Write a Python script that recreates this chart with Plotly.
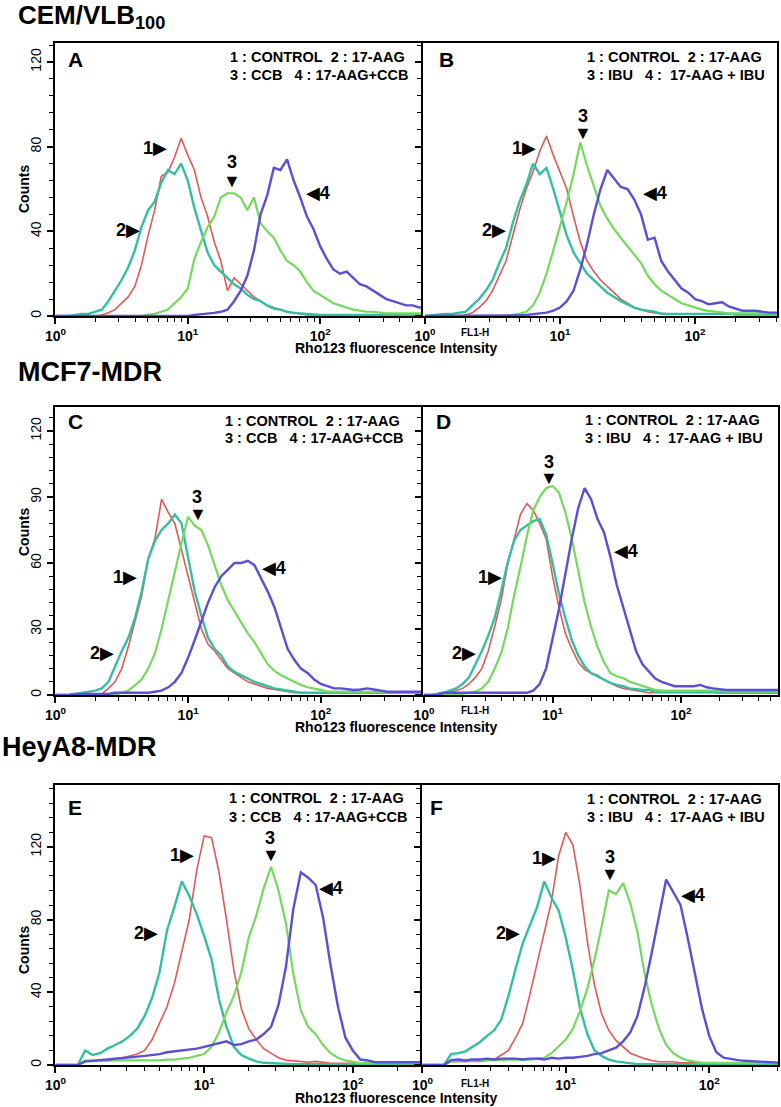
import plotly.graph_objects as go

# FL1-H bin centres (Rho123 fluorescence intensity, 0.05-decade bins)
intensity = [1.000, 1.122, 1.259, 1.413, 1.585, 1.778, 1.995, 2.239, 2.512, 2.818,
             3.162, 3.548, 3.981, 4.467, 5.012, 5.623, 6.310, 7.079, 7.943, 8.913,
             10.00, 11.22, 12.59, 14.13, 15.85, 17.78, 19.95, 22.39, 25.12, 28.18,
             31.62, 35.48, 39.81, 44.67, 50.12, 56.23, 63.10, 70.79, 79.43, 89.13,
             100.0, 112.2, 125.9, 141.3, 158.5, 177.8, 199.5, 223.9, 251.2, 281.8,
             316.2, 354.8, 398.1, 446.7, 501.2, 562.3, 631.0]

# ---- CEM/VLB100 ----
a_control = [0, 0, 0, 0, 0, 0, 0, 0.5, 1.5, 3,
             6, 9, 14, 24, 38, 50, 66, 68, 75, 84,
             76, 69, 56, 47, 35, 26, 12, 18, 15, 12,
             9, 7, 5, 4, 3, 2, 1.5, 1, 0.5, 0.5,
             0.5, 0.5, 0.5, 0.5, 0.5, 0.5, 0.5, 0.5, 0.5, 0.5,
             0.5, 0.5, 0.5, 0.5, 0.5, 0.5, 0.5]
a_aag = [0, 0, 0, 0.5, 1, 1, 2, 3, 7, 12,
         17, 23, 31, 42, 50, 54, 63, 69, 67, 72,
         64, 51, 40, 30, 24, 21, 18, 15, 13, 10,
         8, 7, 5, 3.5, 3, 2, 1.5, 1.2, 1, 0.5,
         0.5, 0.5, 0.5, 0.5, 0.5, 0.5, 0.5, 0.5, 0.5, 0.5,
         0.5, 0.5, 0.5, 0.5, 0.5, 0.5, 0.5]
a_ccb = [0, 0, 0, 0, 0, 0, 0, 0, 0, 0,
         0, 0, 0, 0, 0.5, 1, 2, 3, 6, 9,
         13, 27, 35, 42, 47, 56, 58, 58, 56, 50,
         56, 44, 40, 37, 31, 26, 24, 21, 16, 12,
         10, 8, 6, 5, 4, 3, 2.5, 2, 2, 1.5,
         1.2, 1.2, 1.2, 1.2, 1.2, 1.2, 1.2]
a_combo = [0, 0, 0, 0, 0, 0, 0, 0, 0, 0,
           0, 0, 0, 0, 0, 0, 0, 0, 0, 0,
           0, 0.5, 0.8, 1, 1.5, 2, 3, 7, 12, 19,
           31, 48, 57, 70, 69, 74, 64, 56, 47, 41,
           33, 27, 22, 20, 21, 18, 15, 14, 12, 10,
           8, 7, 6, 5, 5, 4, 4]

b_control = [0, 0, 0, 0, 0, 0, 0.5, 1.5, 4, 7,
             12, 19, 26, 38, 50, 60, 68, 78, 85, 76,
             68, 60, 47, 35, 26, 21, 17, 14, 11, 8,
             6, 4, 3, 2, 1.5, 1.2, 1, 1, 1, 1,
             1, 1, 1, 1, 1, 1, 0.5, 0.5, 0.5, 0.5,
             0.5, 0.5, 0.5, 0.5, 0.5, 0.5, 0.5]
b_aag = [0, 0.3, 0.8, 1, 1, 1.5, 2, 5, 8, 12,
         17, 25, 32, 44, 54, 62, 72, 67, 70, 60,
         49, 38, 30, 25, 20, 17, 14, 11, 9, 7,
         5.5, 4, 3, 2.5, 2, 1, 1, 1, 1, 1,
         1, 1, 1, 1, 1, 1, 1, 1, 1, 1,
         1, 1, 1, 1, 1, 1, 1]
b_ibu = [0, 0, 0, 0, 0, 0, 0, 0, 0, 0,
         0, 0, 0, 0.5, 1, 2, 5, 11, 20, 31,
         42, 54, 67, 82, 71, 61, 52, 46, 41, 37,
         33, 29, 25, 19, 15, 12, 10, 8, 6, 5,
         4, 3, 2.4, 2, 1.6, 1.2, 1.2, 1.2, 1.2, 1.2,
         1.2, 1.2, 1.2, 1.2, 1.2, 1.2, 1.2]
b_combo = [0, 0, 0, 0, 0, 0, 0, 0, 0, 0,
           0, 0, 0, 0, 0.3, 0.5, 0.8, 1.2, 1.6, 2.5,
           4, 7, 12, 22, 34, 48, 60, 69, 65, 61,
           60, 55, 48, 36, 37, 26, 21, 17, 13, 11,
           8, 7, 5.5, 6, 6.5, 4.5, 3.5, 2.5, 2.5, 2.5,
           2, 1.6, 1.6, 1.5, 1.5, 1.5, 1.5]

# ---- MCF7-MDR ----
c_control = [0, 0, 0, 0, 0, 0, 0, 0.5, 3, 6,
             12, 22, 33, 45, 62, 71, 89, 83, 78, 66,
             55, 42, 30, 23, 20, 16, 12, 10, 8, 6,
             5, 4, 3, 2.5, 2, 1.5, 1, 1, 1, 1,
             1, 1, 1, 1, 1, 1, 1, 1, 1, 1,
             1, 1, 1, 1, 1, 1, 1]
c_aag = [0, 0, 0, 0.5, 1, 1.5, 2, 3, 6, 13,
         20, 26, 35, 47, 62, 70, 75, 78, 82, 78,
         62, 47, 36, 26, 21, 18, 13, 10.5, 9, 7.5,
         6, 5, 4, 3, 2.5, 2, 1.5, 1, 1, 1,
         1, 1, 1, 1, 1, 1, 1, 1, 1, 1,
         1, 1, 1, 1, 1, 1, 1]
c_ccb = [0, 0, 0, 0, 0, 0, 0, 0, 0, 0,
         1, 2, 4.5, 7, 12, 19, 30, 43, 57, 69,
         81, 77, 75, 68, 59, 50, 43, 38, 33, 28,
         24, 19, 14, 11, 9, 7.5, 6, 4.6, 3.5, 3,
         2.3, 1.5, 1.5, 1.5, 1.5, 1.5, 1.5, 1.5, 1.5, 1.2,
         1.2, 1.2, 1.2, 1.2, 1.2, 1.2, 1.2]
c_combo = [0, 0, 0, 0.5, 0.5, 0.5, 0.5, 0.5, 0.5, 1,
           1, 1, 1, 1, 1, 1.5, 2, 3.5, 6, 10,
           17, 25, 34, 42, 49, 54, 57, 60, 60, 61,
           59, 53, 47, 40, 30, 21, 16, 12, 10, 7,
           5, 4, 3, 3, 2.5, 2.3, 2.5, 3, 2.5, 2,
           1.5, 1.5, 1.5, 1.5, 1.5, 1.5, 1.5]

d_control = [0, 0, 0, 0, 1, 2, 3, 5, 8, 12,
             20, 31, 43, 59, 71, 82, 87, 84, 78, 71,
             54, 40, 28, 21, 15, 11.5, 10, 9, 7, 5.5,
             4, 3, 2.5, 2, 1.5, 1, 1, 1, 1, 1,
             1, 1, 1, 1, 1, 1, 1, 1, 1, 1,
             1, 1, 1, 1, 1, 1, 1]
d_aag = [0, 0, 0.5, 1, 2, 3, 5, 8, 14, 20,
         27, 35, 47, 60, 70, 75, 77, 79, 80, 73,
         60, 46, 35, 25, 18, 13, 10, 8.5, 7, 5.5,
         4.6, 4, 3, 2.5, 2.3, 2.3, 1.5, 1.5, 1.5, 1.5,
         1.5, 1.5, 1.5, 1.5, 1.5, 1.5, 1, 1, 1, 1,
         1, 1, 1, 1, 1, 1, 1]
d_ibu = [0, 0, 0, 0, 0, 0, 0.5, 1, 1.5, 3,
         6, 12, 19, 30, 45, 58, 72, 84, 90, 94,
         95, 92, 83, 71, 57, 42, 31, 22, 15, 10,
         8.5, 7.7, 6, 5, 4, 3, 2.3, 2, 2, 2,
         2, 2, 2, 2, 2, 2, 2, 1.5, 1.5, 1.5,
         1.5, 1.5, 1.5, 1.5, 1.5, 1.5, 1.5]
d_combo = [0, 0, 0, 1, 1, 1, 1, 1, 1, 1,
           1, 1, 1, 1, 1, 1, 1, 2, 5, 12,
           25, 39, 55, 71, 85, 94, 89, 80, 74, 63,
           50, 40, 29, 20, 14, 10.5, 7.5, 6, 5, 4,
           4, 4, 4, 4.6, 3.5, 3, 2.6, 2.3, 2.3, 2.3,
           2.3, 2.3, 2.3, 2.3, 2.3, 2.3, 2.3]

# ---- HeyA8-MDR ----
e_control = [0, 0, 0, 0, 2.5, 2.5, 2.5, 3, 3.5, 4,
             5, 6, 8, 14, 23, 32, 45, 62, 80, 107,
             126, 125, 106, 80, 52, 31, 20, 14, 9, 6.5,
             4, 2.7, 2.2, 1.8, 1.5, 2, 1.5, 1, 1, 1,
             1, 1, 1, 1, 1, 1, 1, 1, 1, 1,
             1, 1, 1, 1, 1, 1, 1]
e_aag = [0, 0, 0, 0, 8, 5.5, 6.5, 9, 11, 13,
         16, 20, 27, 37, 51, 74, 87, 101, 93, 83,
         71, 58, 36, 21, 10, 5.5, 3.5, 2, 1.2, 1,
         0.5, 0.5, 0.5, 0.5, 0.5, 0.5, 0.5, 0.5, 0.5, 0.5,
         0.5, 0.5, 0.5, 0.5, 0.5, 0.5, 0.5, 0.5, 0.5, 0.5,
         0.5, 0.5, 0.5, 0.5, 0.5, 0.5, 0.5]
e_ccb = [0, 0, 0, 0, 2, 2, 2.2, 2.3, 2.5, 2.5,
         2.5, 2.5, 2.5, 2.5, 2.5, 3, 3, 3.5, 4, 5,
         6, 10, 18, 29, 38, 51, 70, 82, 97, 109,
         96, 78, 50, 30, 21, 17, 11, 6.5, 4, 2.5,
         1.8, 1, 1, 1, 1, 1, 1, 1, 1, 1,
         1, 1, 1, 1, 1, 1, 1]
e_combo = [0, 0, 0, 0, 2, 2.5, 2.7, 3, 3.5, 4,
           4.5, 4.6, 5, 5.5, 6, 7, 7.5, 8, 8.5, 9,
           10, 11, 12, 13, 11, 11.5, 13, 14, 17, 21,
           33, 54, 86, 106, 103, 99, 81, 55, 32, 15,
           8, 3, 2.5, 1.5, 1.5, 1.5, 1.5, 1.5, 1.5, 1.5,
           1.5, 1.5, 1.5, 1.5, 1.5, 1.5, 1.5]

f_control = [0, 0, 0, 0, 1.8, 2, 2, 2, 2, 2.5,
             3, 5.5, 8, 15, 23, 39, 56, 72, 90, 115,
             128, 121, 98, 68, 44, 28, 19, 13.5, 10, 6.5,
             5, 3.5, 2.5, 1.8, 1.8, 1.8, 1.2, 1.2, 1.2, 1.2,
             1.2, 1.2, 1.2, 1.2, 1.2, 1.2, 1.2, 1.2, 1.2, 1.2,
             1.2, 1.2, 1.2, 1.2, 1.2, 1.2, 1.2]
f_aag = [0, 0, 0, 0, 6, 6.5, 7.5, 10, 12.5, 16,
         19, 25, 38, 53, 67, 77, 87, 101, 92, 85,
         70, 52, 31, 17, 8, 5, 3, 2, 1.5, 1,
         0.5, 0.5, 0.5, 0.5, 0.5, 0.5, 0.5, 0.5, 0.5, 0.5,
         0.5, 0.5, 0.5, 0.5, 0.5, 0.5, 0.5, 0.5, 0.5, 0.5,
         0.5, 0.5, 0.5, 0.5, 0.5, 0.5, 0.5]
f_ibu = [0, 0, 0, 0, 2, 2, 2.2, 2.3, 2.5, 2.5,
         2.7, 2.7, 3, 3, 3, 3, 3.5, 4, 6.5, 10,
         14, 20, 30, 42, 58, 76, 96, 94, 100, 89,
         73, 50, 33, 20, 11, 6.5, 4, 2.5, 1.8, 1.2,
         1.2, 1.2, 1.2, 1.2, 1.2, 1.2, 1.2, 1.2, 1.2, 1.2,
         1.2, 1.2, 1.2, 1.2, 1.2, 1.2, 1.2]
f_combo = [0, 0, 0, 0, 2.7, 3, 2.5, 3, 3, 3.5,
           3, 3.5, 3.5, 3.5, 3, 3.5, 3.5, 3, 4, 3.5,
           4, 4, 4.5, 5, 6, 6.5, 8, 9.5, 13, 18,
           27, 43, 62, 83, 102, 95, 88, 70, 50, 31,
           16, 7, 4, 3.2, 2.7, 2.3, 2, 1.8, 1.5, 1.2,
           1, 1, 1, 1, 1, 1, 1]

legend_ccb = ["1 : CONTROL  2 : 17-AAG", "3 : CCB   4 : 17-AAG+CCB"]
legend_ibu = ["1 : CONTROL  2 : 17-AAG", "3 : IBU   4 :  17-AAG + IBU"]
row_titles = ["CEM/VLB<sub>100</sub>", "MCF7-MDR", "HeyA8-MDR"]
x_tick_vals = [1, 10, 100]
x_tick_text = ["10<sup>0</sup>", "10<sup>1</sup>", "10<sup>2</sup>"]
x_minor_vals = [2, 3, 4, 5, 6, 7, 8, 9, 20, 30, 40, 50, 60, 70, 80, 90,
                200, 300, 400, 500, 600, 700, 800, 900]

W, H = 781, 1107
FONT = "Liberation Sans, Arial, DejaVu Sans, sans-serif"
COLORS = ["#e05a55", "#35bfa2", "#74d95c", "#5a4fd6"]
WIDTHS = [1.6, 2.4, 2.2, 2.4]


def px(x):
    return x / W


def py(y):
    return 1 - y / H


# panel boxes in pixels (left, right, top, bottom), log x range, y max, tick steps
panels = [
    dict(letter="A", series=[a_control, a_aag, a_ccb, a_combo], box=(55, 423, 43, 316),
         xr=(-0.003, 2.777), ymax=129, dtick=40, minor=8, left=True, legend=legend_ccb,
         let_xy=(75, 60), leg_xy=(228, 57, 75),
         marks=[("1▶", 155, 148), ("2▶", 128, 230), ("3", 232, 162), ("▼", 232, 181), ("◀4", 318, 193)]),
    dict(letter="B", series=[b_control, b_aag, b_ibu, b_combo], box=(423, 777, 43, 316),
         xr=(-0.015, 2.607), ymax=129, dtick=40, minor=8, left=False, legend=legend_ibu,
         let_xy=(446, 59), leg_xy=(585, 57, 75),
         marks=[("1▶", 524, 148), ("2▶", 494, 230), ("3", 583, 116), ("▼", 583, 133), ("◀4", 655, 193)]),
    dict(letter="C", series=[c_control, c_aag, c_ccb, c_combo], box=(55, 423, 407, 695),
         xr=(-0.003, 2.77), ymax=130.9, dtick=30, minor=6, left=True, legend=legend_ccb,
         let_xy=(75, 422), leg_xy=(223, 421, 438),
         marks=[("1▶", 125, 577), ("2▶", 102, 653), ("3", 197, 497), ("▼", 198, 514), ("◀4", 274, 568)]),
    dict(letter="D", series=[d_control, d_aag, d_ibu, d_combo], box=(423, 778, 407, 695),
         xr=(-0.008, 2.755), ymax=130.9, dtick=30, minor=6, left=False, legend=legend_ibu,
         let_xy=(443, 422), leg_xy=(583, 420, 438),
         marks=[("1▶", 490, 577), ("2▶", 464, 653), ("3", 549, 462), ("▼", 549, 478), ("◀4", 626, 551)]),
    dict(letter="E", series=[e_control, e_aag, e_ccb, e_combo], box=(55, 422, 785, 1065),
         xr=(-0.003, 2.465), ymax=154, dtick=40, minor=8, left=True, legend=legend_ccb,
         let_xy=(75, 807), leg_xy=(227, 798, 817),
         marks=[("1▶", 182, 855), ("2▶", 146, 933), ("3", 270, 838), ("▼", 271, 855), ("◀4", 331, 888)]),
    dict(letter="F", series=[f_control, f_aag, f_ibu, f_combo], box=(422, 778, 785, 1065),
         xr=(-0.003, 2.48), ymax=154, dtick=40, minor=8, left=False, legend=legend_ibu,
         let_xy=(436, 807), leg_xy=(585, 799, 817),
         marks=[("1▶", 544, 858), ("2▶", 508, 933), ("3", 610, 857), ("▼", 610, 874), ("◀4", 693, 895)]),
]

fig = go.Figure()
annotations = []


def text(s, x, y, size, xanchor="center", angle=0, bold=True):
    annotations.append(dict(
        text=f"<b>{s}</b>" if bold else s, x=px(x), y=py(y), xref="paper", yref="paper",
        xanchor=xanchor, yanchor="middle", showarrow=False, textangle=angle,
        font=dict(family=FONT, size=size, color="black")))


layout = {}
for i, p in enumerate(panels):
    s = "" if i == 0 else str(i + 1)
    x0, x1, y0, y1 = p["box"]
    for k, ys in enumerate(p["series"]):
        fig.add_trace(go.Scatter(
            x=intensity, y=ys, mode="lines", xaxis="x" + s, yaxis="y" + s,
            line=dict(color=COLORS[k], width=WIDTHS[k]), showlegend=False,
            hoverinfo="x+y"))

    layout["xaxis" + s] = dict(
        domain=[px(x0), px(x1)], anchor="y" + s, type="log", range=list(p["xr"]),
        automargin=False,
        showline=True, linecolor="black", linewidth=2, mirror=True,
        ticks="outside", ticklen=6, tickwidth=1.5, tickcolor="black",
        tickmode="array", tickvals=x_tick_vals,
        ticktext=[f"<b>{t}</b>" for t in x_tick_text],
        tickfont=dict(family=FONT, size=14, color="black"),
        showgrid=False, zeroline=False,
        minor=dict(tickmode="array", tickvals=x_minor_vals, ticks="outside",
                   ticklen=4, tickwidth=1, tickcolor="black", showgrid=False))
    layout["yaxis" + s] = dict(
        domain=[py(y1), py(y0)], anchor="x" + s, range=[0, p["ymax"]],
        automargin=False,
        showline=True, linecolor="black", linewidth=2, mirror=not p["left"],
        ticks="outside", ticklen=6, tickwidth=1.5, tickcolor="black",
        tick0=0, dtick=p["dtick"], showticklabels=p["left"], tickangle=-90,
        tickfont=dict(family=FONT, size=14, color="black"),
        showgrid=False, zeroline=False,
        minor=dict(tick0=0, dtick=p["minor"], ticks="outside", ticklen=4,
                   tickwidth=1, tickcolor="black", showgrid=False))

    text(p["letter"], *p["let_xy"], 21)
    lx, ly1, ly2 = p["leg_xy"]
    text(p["legend"][0].replace(" ", "\u00a0"), lx, ly1, 14.5, xanchor="left")
    text(p["legend"][1].replace(" ", "\u00a0"), lx, ly2, 14.5, xanchor="left")
    for m, mx, my in p["marks"]:
        text(m, mx, my, 18)

# row titles, axis titles
text(row_titles[0], 16, 16, 26, xanchor="left")
text(row_titles[1], 16, 372, 27, xanchor="left")
text(row_titles[2], 0, 747, 27, xanchor="left")
for cy in (189, 532, 950):
    text("Counts", 24, cy, 14, angle=-90)
for cy, fy in ((348, 333), (727, 710), (1098, 1083)):
    text("Rho123 fluorescence Intensity", 396, cy, 14)
    text("FL1-H", 475, fy, 10)

fig.update_layout(
    width=W, height=H, margin=dict(l=0, r=0, t=0, b=0, autoexpand=False),
    paper_bgcolor="white", plot_bgcolor="white", showlegend=False,
    annotations=annotations, **layout)

# the page body has a default 8px margin; drop it so the figure sits at 0,0
fig.write_html("out.html", config={"displayModeBar": False},
               post_script="document.body.style.margin='0px';")
